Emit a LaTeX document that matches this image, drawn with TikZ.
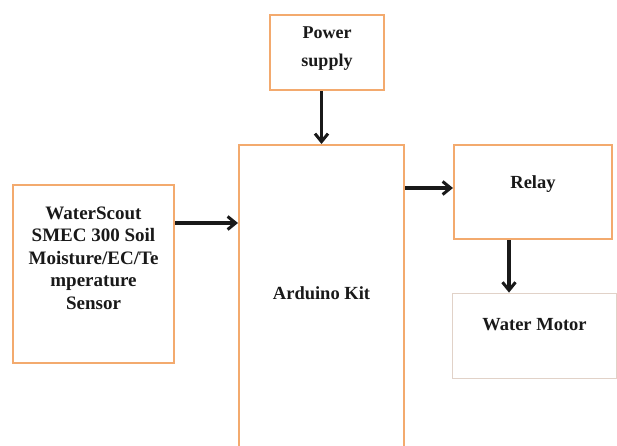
\documentclass[tikz,border=0pt]{standalone}
\usepackage{fontspec}
\setmainfont{Liberation Serif}
\usetikzlibrary{arrows.meta}
\definecolor{boxorange}{RGB}{243,170,110}
\definecolor{faintedge}{RGB}{225,210,200}
\tikzset{
  blk/.style={draw=boxorange, line width=2pt, fill=white, rectangle, inner sep=0pt},
  faint/.style={draw=faintedge, line width=0.8pt, fill=white, rectangle, inner sep=0pt},
  lbl/.style={font=\fontsize{18.5}{22}\selectfont\bfseries, align=center, text=black!90},
  conn/.style={draw=black!90, line width=3.2pt, -{Straight Barb[length=8pt,width=13pt,line width=3pt]}}
}
\begin{document}
\begin{tikzpicture}[x=1pt,y=1pt]
\useasboundingbox (0,0) rectangle (617,-445);
\fill[white] (0,0) rectangle (617,-445);
\node[blk, minimum width=114pt, minimum height=75pt] (power) at (327,-52.5) {};
\node[lbl, font=\fontsize{18}{28}\selectfont\bfseries] (powertext) at (327,-49) {Power\\supply};
\node[blk, minimum width=165pt, minimum height=304pt] (arduino) at (321.5,-297) {};
\node[lbl] (arduinotext) at (321.5,-293) {Arduino Kit};
\node[blk, minimum width=161pt, minimum height=178pt] (sensor) at (93.5,-274) {};
\node[lbl, font=\fontsize{19}{22.5}\selectfont\bfseries] (sensortext) at (93.5,-258) {WaterScout\\SMEC 300 Soil\\Moisture/EC/Te\\mperature\\Sensor};
\node[blk, minimum width=158pt, minimum height=94pt] (relay) at (533,-192) {};
\node[lbl] (relaytext) at (533,-184) {Relay};
\node[faint, minimum width=164pt, minimum height=85pt] (motor) at (534.5,-335.5) {};
\node[lbl] (motortext) at (534.5,-325) {Water Motor};
\coordinate (sy) at (0,-223);
\coordinate (rx) at (509,0);
\draw[conn] (power.south -| arduino.north) -- (arduino.north);
\draw[conn] (sensor.east |- sy) -- (arduino.west |- sy);
\draw[conn] (arduino.east |- 0,-188) -- (relay.west |- 0,-188);
\draw[conn] (relay.south -| rx) -- (motor.north -| rx);
\end{tikzpicture}
\end{document}
